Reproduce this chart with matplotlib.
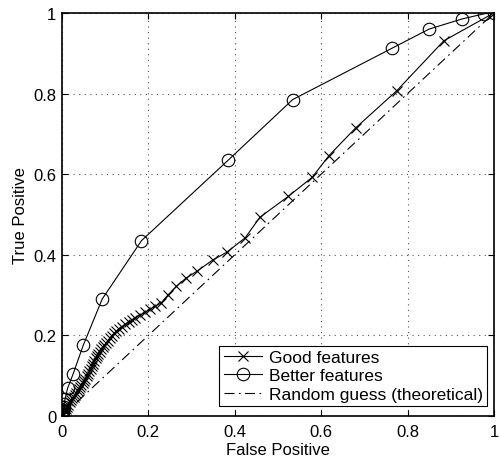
import matplotlib
matplotlib.use('Agg')
import matplotlib.pyplot as plt
from matplotlib.ticker import FuncFormatter

plt.rcParams['font.family'] = ['Liberation Sans', 'DejaVu Sans']

# Good features ROC points
good_fp = [0, 0.003, 0.006, 0.009, 0.012, 0.015, 0.018, 0.021, 0.024, 0.027,
           0.030, 0.033, 0.036, 0.039, 0.042, 0.045, 0.048, 0.051, 0.054, 0.057,
           0.060, 0.063, 0.066, 0.069, 0.072, 0.075, 0.078, 0.081, 0.084, 0.087,
           0.090, 0.094, 0.098, 0.102, 0.106, 0.110, 0.115, 0.120, 0.126, 0.132,
           0.139, 0.146, 0.154, 0.162, 0.170, 0.180, 0.192, 0.204, 0.216, 0.229,
           0.245, 0.265, 0.287, 0.312, 0.349, 0.381, 0.424, 0.458, 0.524, 0.579,
           0.618, 0.680, 0.775, 0.884, 1.0]
good_tp = [0, 0.006, 0.012, 0.018, 0.023, 0.028, 0.034, 0.039, 0.044, 0.048,
           0.052, 0.057, 0.062, 0.067, 0.071, 0.076, 0.081, 0.087, 0.093, 0.099,
           0.105, 0.111, 0.117, 0.123, 0.130, 0.137, 0.143, 0.149, 0.155, 0.160,
           0.165, 0.170, 0.176, 0.181, 0.187, 0.193, 0.199, 0.205, 0.211, 0.217,
           0.222, 0.227, 0.232, 0.238, 0.244, 0.250, 0.257, 0.265, 0.272, 0.280,
           0.300, 0.322, 0.342, 0.359, 0.387, 0.406, 0.442, 0.493, 0.545, 0.592,
           0.646, 0.715, 0.807, 0.931, 1.0]

# Better features ROC points
better_fp = [0, 0.001, 0.002, 0.003, 0.004, 0.005, 0.007, 0.013, 0.026, 0.049,
             0.093, 0.184, 0.385, 0.534, 0.765, 0.850, 0.926, 0.978, 1.0]
better_tp = [0, 0.005, 0.010, 0.015, 0.022, 0.030, 0.042, 0.069, 0.105, 0.175,
             0.290, 0.435, 0.635, 0.785, 0.913, 0.960, 0.985, 0.998, 1.0]

# Random guess diagonal
rand_fp = [0, 1]
rand_tp = [0, 1]

ticks = [0, 0.2, 0.4, 0.6, 0.8, 1.0]

fig = plt.figure(figsize=(5.0, 4.64), dpi=100)
fig.patch.set_facecolor('white')
ax = fig.add_axes([0.124, 0.1013, 0.864, 0.8687])

ax.plot(good_fp, good_tp, 'k-', marker='x', ms=7, mew=0.8, lw=0.8,
        label='Good features')
ax.plot(better_fp, better_tp, 'k-', marker='o', ms=9, mfc='none', mew=0.8,
        lw=0.8, label='Better features')
ax.plot(rand_fp, rand_tp, color='k', lw=0.8, dashes=(9, 4, 1.5, 4),
        label='Random guess (theoretical)')

ax.set_xlim(0, 1)
ax.set_ylim(0, 1)
ax.set_xticks(ticks)
ax.set_yticks(ticks)
fmt = FuncFormatter(lambda v, p: '%g' % v)
ax.xaxis.set_major_formatter(fmt)
ax.yaxis.set_major_formatter(fmt)
ax.tick_params(direction='in', length=4, width=0.8, labelsize=12,
               top=True, right=True, pad=4)
ax.tick_params(axis='x', pad=6)
ax.grid(True, color='#555555', linestyle=(0, (1, 4)), linewidth=0.8)
for s in ax.spines.values():
    s.set_linewidth(1.2)

ax.set_xlabel('False Positive', fontsize=12, labelpad=2)
ax.set_ylabel('True Positive', fontsize=12, labelpad=4)

leg = ax.legend(loc='lower right', bbox_to_anchor=(0.984, 0.025),
                borderaxespad=0, fancybox=False, framealpha=1,
                edgecolor='k', fontsize=12.5, handlelength=2.2,
                borderpad=0.25, labelspacing=0.18, handletextpad=0.4)
leg.get_frame().set_linewidth(0.8)

fig.savefig('out.png', dpi=100, facecolor='white')
plt.close(fig)
